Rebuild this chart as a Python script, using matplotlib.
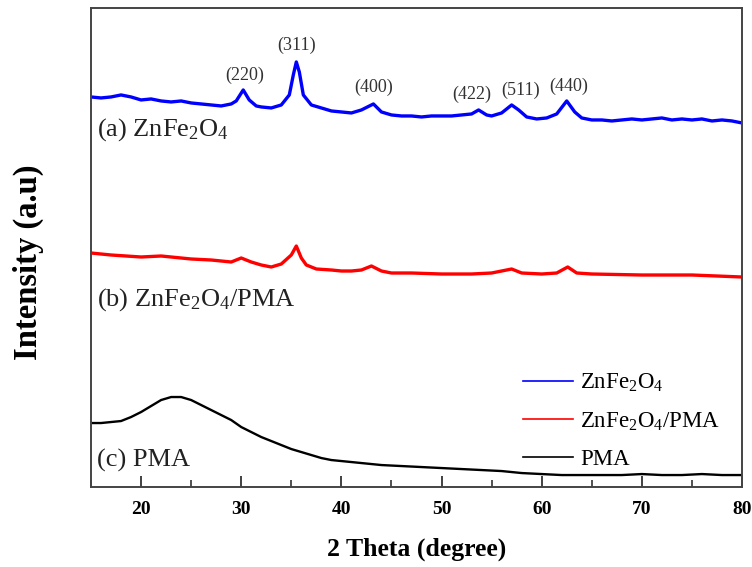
import matplotlib
matplotlib.use("Agg")
import matplotlib.pyplot as plt
from matplotlib.ticker import MultipleLocator

plt.rcParams['font.family'] = ['Liberation Serif', 'DejaVu Serif']
plt.rcParams['mathtext.fontset'] = 'custom'
plt.rcParams['mathtext.rm'] = 'Liberation Serif'
plt.rcParams['mathtext.it'] = 'Liberation Serif:italic'
plt.rcParams['mathtext.bf'] = 'Liberation Serif:bold'

# ZnFe2O4 (blue), offset intensity (a.u.)
x_a = [15, 16, 17, 18, 19, 20, 21, 22, 23, 24, 25, 26, 27, 28, 29, 29.5, 30.2, 30.8,
       31.5, 32, 33, 34, 34.8, 35.2, 35.5, 35.8, 36.2, 37, 38, 39, 40, 41, 42, 43.2,
       44, 45, 46, 47, 48, 49, 50, 51, 52, 53, 53.7, 54.5, 55, 56, 57, 57.7, 58.5,
       59.5, 60.5, 61.5, 62.5, 63.3, 64, 65, 66, 67, 68, 69, 70, 71, 72, 73, 74, 75,
       76, 77, 78, 79, 80]
y_a = [390, 389, 390, 392, 390, 387, 388, 386, 385, 386, 384, 383, 382, 381, 383, 386, 397, 387,
       381, 380, 379, 382, 392, 412, 425, 415, 392, 382, 379, 376, 375, 374, 377, 383,
       375, 372, 371, 371, 370, 371, 371, 371, 372, 373, 377, 372, 371, 374, 382, 377, 370,
       368, 369, 373, 386, 375, 369, 367, 367, 366, 367, 368, 367, 368, 369, 367, 368, 367,
       368, 366, 367, 366, 364]

# ZnFe2O4/PMA (red)
x_b = [15, 17, 20, 22, 24, 25, 27, 28, 29, 30, 31, 32, 33, 34, 35, 35.5, 36, 36.5,
       37.5, 39, 40, 41, 42, 43, 44, 45, 47, 50, 53, 55, 56.5, 57, 58, 60, 61.5, 62.6,
       63.5, 65, 70, 75, 80]
y_b = [234, 232, 230, 231, 229, 228, 227, 226, 225, 229, 225, 222, 220, 223, 232, 241, 229, 222,
       218, 217, 216, 216, 217, 221, 216, 214, 214, 213, 213, 214, 217, 218, 214, 213, 214, 220,
       214, 213, 212, 212, 210]

# PMA (black)
x_c = [15, 16, 17, 18, 19, 20, 21, 22, 23, 24, 25, 26, 27, 28, 29, 30, 31, 32, 33, 34,
       35, 36, 37, 38, 39, 40, 42, 44, 46, 48, 50, 52, 54, 56, 58, 60, 62, 64, 66, 68,
       70, 72, 74, 76, 78, 80]
y_c = [64, 64, 65, 66, 70, 75, 81, 87, 90, 90, 87, 82, 77, 72, 67, 60, 55, 50, 46, 42,
       38, 35, 32, 29, 27, 26, 24, 22, 21, 20, 19, 18, 17, 16, 14, 13, 12, 12, 12, 12,
       13, 12, 12, 13, 12, 12]

peak_labels = ['(220)', '(311)', '(400)', '(422)', '(511)', '(440)']
peak_x = [30.3, 35.5, 43.2, 53.0, 57.9, 62.7]
peak_y = [412, 442, 400, 393, 397, 401]

fig = plt.figure(figsize=(7.52, 5.67), dpi=100)
ax = fig.add_axes([0.121, 0.141, 0.8657, 0.845])

la, = ax.plot(x_a, y_a, color='#0000ff', lw=2.4, label='ZnFe$_2$O$_4$')
lb, = ax.plot(x_b, y_b, color='#ff0000', lw=2.4, label='ZnFe$_2$O$_4$/PMA')
lc, = ax.plot(x_c, y_c, color='black', lw=1.7, label='PMA')

ax.set_xlim(15, 80)
ax.set_ylim(0, 479)
ax.set_yticks([])
ax.xaxis.set_major_locator(MultipleLocator(10))
ax.xaxis.set_minor_locator(MultipleLocator(5))
ax.tick_params(axis='x', which='major', direction='in', length=8, width=1.3,
               top=False, labelsize=14, pad=10, colors='#333333')
ax.tick_params(axis='x', which='minor', direction='in', length=5, width=1.2, top=False,
               colors='#333333')
for lab in ax.get_xticklabels():
    lab.set_fontweight('bold')
    lab.set_color('black')
for s in ax.spines.values():
    s.set_linewidth(1.4)
    s.set_color('#444444')

ax.set_xlabel('2 Theta (degree)', fontsize=18.5, fontweight='bold', labelpad=14)
ax.set_ylabel('Intensity (a.u)', fontsize=23.5, fontweight='bold')
ax.yaxis.set_label_coords(-0.072, 0.47)

ax.text(15.6, 357, '(a) ZnFe$_2$O$_4$', fontsize=19, va='center', ha='left', color='#222222')
ax.text(15.6, 187, '(b) ZnFe$_2$O$_4$/PMA', fontsize=19, va='center', ha='left', color='#222222')
ax.text(15.6, 27, '(c) PMA', fontsize=19, va='center', ha='left', color='#222222')

for t, px, py in zip(peak_labels, peak_x, peak_y):
    ax.text(px, py, t, fontsize=13, ha='center', va='center', color='#333333')

leg = ax.legend(handles=[la, lb, lc], loc='upper left', bbox_to_anchor=(0.632, 0.283),
                frameon=False, fontsize=16.5, handlelength=2.2, handletextpad=0.3,
                labelspacing=0.7)
for h in leg.get_lines():
    h.set_linewidth(1.2)

fig.savefig('out.png', dpi=100)
